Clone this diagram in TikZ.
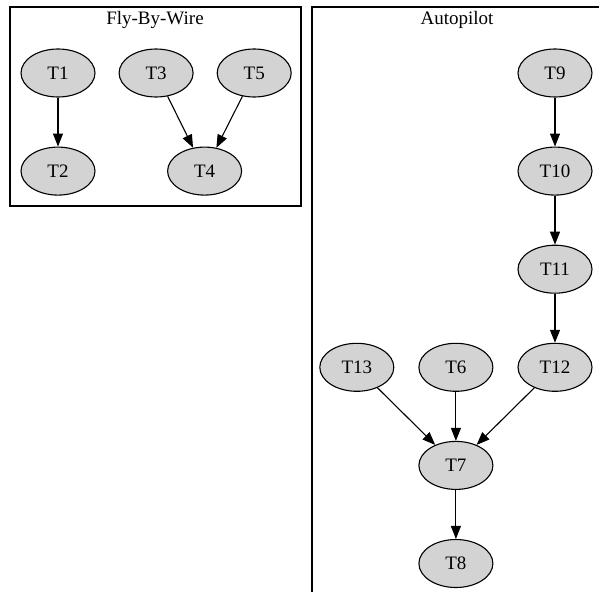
\documentclass[tikz,border=0pt]{standalone}
\usepackage{fontspec}
\setmainfont{Liberation Serif}
\usetikzlibrary{positioning}
\usetikzlibrary{shapes.geometric}
\usetikzlibrary{arrows.meta}
\definecolor{taskgray}{RGB}{211,211,211}

\begin{document}
\begin{tikzpicture}[x=1pt,y=-1pt,
task/.style={draw=black,fill=taskgray,ellipse,line width=1.1pt,
minimum width=74pt,minimum height=48pt,inner sep=0pt,
font=\fontsize{19}{22}\selectfont},
    cluster/.style={draw=black,line width=1.1pt},
    title/.style={font=\fontsize{19}{22}\selectfont,inner sep=0pt},
    dep/.style={line width=1.1pt,-{Triangle[length=13pt,width=10pt]}}]
    \useasboundingbox (0,0) rectangle (599,591);
    \clip (0,0) rectangle (599,591);
    % clusters
    \draw[cluster] (10,7) rectangle (301,206);
    \draw[cluster] (312,7) rectangle (650,650);
    \node[title] (fbw) at (155,20) {Fly-By-Wire};
    \node[title] (autopilot) at (457,20) {Autopilot};
    % Fly-By-Wire tasks
    \node[task] (t1) at (58,73) {T1};
    \node[task] (t2) [below=49pt of t1] {T2};
    \node[task] (t3) [right=23pt of t1] {T3};
    \node[task] (t5) [right=23pt of t3] {T5};
    \node[task] (t4) [below=49pt of t3, xshift=48.5pt] {T4};
    % Autopilot tasks
    \node[task] (t9) at (555,73) {T9};
    \node[task] (t10) [below=49pt of t9] {T10};
    \node[task] (t11) [below=49pt of t10] {T11};
    \node[task] (t12) [below=49pt of t11] {T12};
    \node[task] (t6) [left=24pt of t12] {T6};
    \node[task] (t13) [left=24pt of t6] {T13};
    \node[task] (t7) [below=49pt of t6] {T7};
    \node[task] (t8) [below=49pt of t7] {T8};

\draw[dep] (t1) -- (t2);
\draw[dep] (t3) -- (t4);
\draw[dep] (t5) -- (t4);
\draw[dep] (t9) -- (t10);
\draw[dep] (t10) -- (t11);
\draw[dep] (t11) -- (t12);
\draw[dep] (t13) -- (t7);
\draw[dep] (t6) -- (t7);
\draw[dep] (t12) -- (t7);
\draw[dep] (t7) -- (t8);
\end{tikzpicture}
\end{document}
